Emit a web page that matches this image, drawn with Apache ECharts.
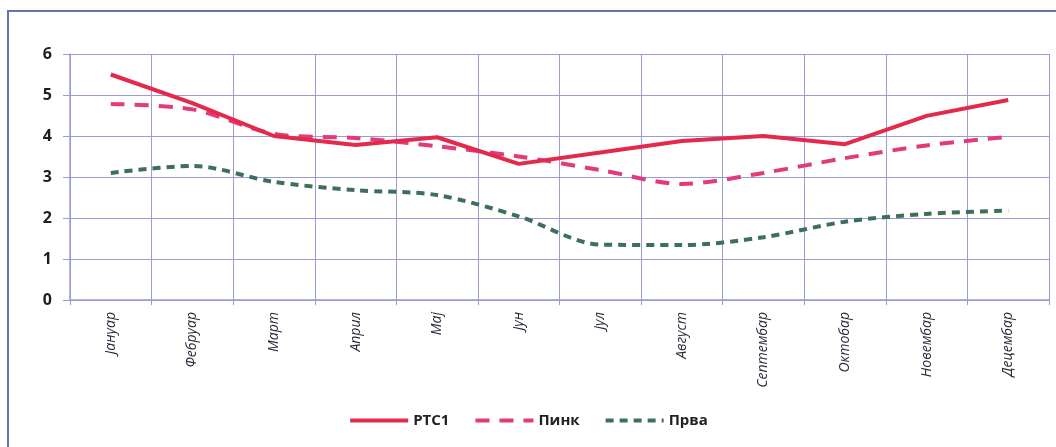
<!DOCTYPE html>
<html>
<head>
<meta charset="utf-8">
<script src="https://cdn.jsdelivr.net/npm/echarts@6/dist/echarts.min.js"></script>
<style>
  html, body { margin: 0; padding: 0; background: #fff; }
  #chart { width: 1056px; height: 447px; }
</style>
</head>
<body>
<div id="chart"></div>
<script>
var months = ['Јануар', 'Фебруар', 'Март', 'Април', 'Мај', 'Јун', 'Јул', 'Август', 'Септембар', 'Октобар', 'Новембар', 'Децембар']
var rts1 = [5.5, 4.8, 4.0, 3.78, 3.97, 3.32, 3.6, 3.88, 4.0, 3.8, 4.49, 4.88]
var pink = [4.78, 4.65, 4.05, 3.95, 3.75, 3.5, 3.17, 2.83, 3.1, 3.46, 3.77, 3.98]
var prva = [3.1, 3.27, 2.88, 2.68, 2.56, 2.04, 1.35, 1.34, 1.53, 1.91, 2.1, 2.18]

var gridColor = '#9a9cd8'

var chart = echarts.init(document.getElementById('chart'))
chart.setOption({
  backgroundColor: '#fff',
  animation: false,
  graphic: [{
    type: 'rect',
    shape: { x: 8, y: 11, width: 1060, height: 450 },
    style: { fill: 'none', stroke: '#6672a8', lineWidth: 2 },
    z: -1
  }],
  legend: {
    bottom: 14,
    left: 'center',
    itemWidth: 58,
    itemHeight: 14,
    itemGap: 24,
    itemStyle: { opacity: 0 },
    lineStyle: { width: 4 },
    textStyle: { fontFamily: 'Open Sans', fontWeight: 'bold', fontSize: 15, color: '#222' },
    data: ['РТС1', 'Пинк', 'Прва']
  },
  grid: { left: 70, right: 7, top: 54, bottom: 147 },
  xAxis: {
    type: 'category',
    boundaryGap: true,
    data: months,
    axisLine: { lineStyle: { color: gridColor, width: 1.5 } },
    axisTick: { show: true, length: 5, lineStyle: { color: gridColor } },
    splitLine: { show: true, lineStyle: { color: gridColor, width: 1 } },
    axisLabel: {
      rotate: 90,
      margin: 12,
      fontFamily: 'Open Sans',
      fontStyle: 'italic',
      fontSize: 14,
      color: '#2a2a3a'
    }
  },
  yAxis: {
    type: 'value',
    min: 0,
    max: 6,
    interval: 1,
    axisLine: { show: true, lineStyle: { color: gridColor, width: 1.5 } },
    axisTick: { show: true, length: 7, lineStyle: { color: gridColor } },
    splitLine: { lineStyle: { color: gridColor, width: 1 } },
    axisLabel: {
      margin: 18,
      fontFamily: 'Open Sans',
      fontWeight: 'bold',
      fontSize: 16,
      color: '#1e1e1e'
    }
  },
  series: [
    {
      name: 'РТС1',
      type: 'line',
      data: rts1,
      symbol: 'none',
      color: '#e42a4c',
      lineStyle: { width: 4, color: '#e42a4c' },
      z: 3
    },
    {
      name: 'Пинк',
      type: 'line',
      data: pink,
      symbol: 'none',
      smooth: 0.3,
      color: '#e23a7a',
      lineStyle: { width: 4, color: '#e23a7a', type: [14, 10] },
      z: 2
    },
    {
      name: 'Прва',
      type: 'line',
      data: prva,
      symbol: 'none',
      smooth: 0.3,
      color: '#3e6e5e',
      lineStyle: { width: 4, color: '#3e6e5e', type: [8, 6] },
      z: 1
    }
  ]
})
</script>
</body>
</html>
